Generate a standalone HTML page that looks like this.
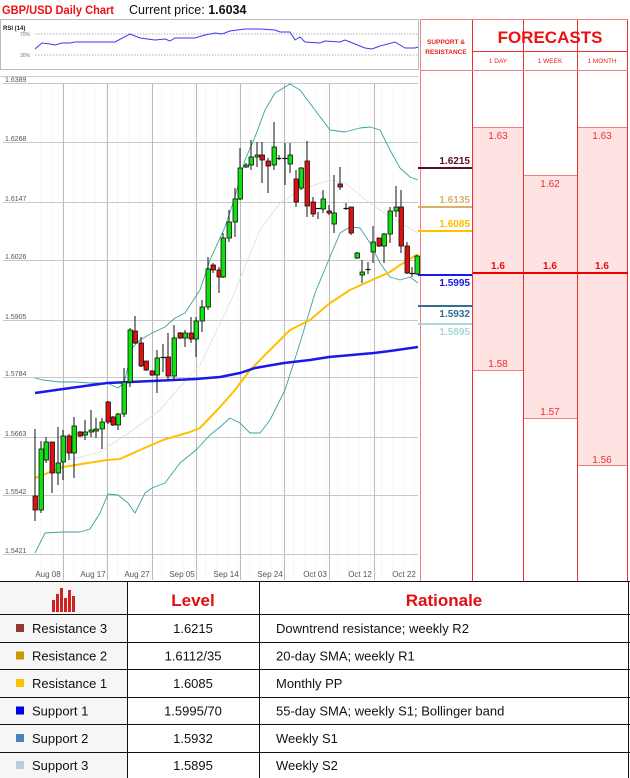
<!DOCTYPE html>
<html><head><meta charset="utf-8"><style>
body{margin:0;width:630px;height:778px;background:#fff;overflow:hidden;font-family:"Liberation Sans",sans-serif}
svg{position:absolute;left:0;top:0}
</style></head><body>
<svg id="s" width="630" height="778" viewBox="0 0 630 778" font-family="Liberation Sans, sans-serif">
<text x="2" y="14" font-size="12" font-weight="bold" fill="#ee1111" textLength="112" lengthAdjust="spacingAndGlyphs">GBP/USD Daily Chart</text>
<text x="129" y="14" font-size="12.5" fill="#111">Current price: <tspan font-weight="bold">1.6034</tspan></text>
<rect x="0.5" y="19.5" width="418" height="50" fill="none" stroke="#bbb"/>
<text x="3" y="30" font-size="6" font-weight="bold" fill="#222">RSI (14)</text>
<line x1="35" y1="34" x2="418" y2="34" stroke="#999" stroke-dasharray="1.5,1.5" stroke-width="0.7"/>
<line x1="35" y1="55" x2="418" y2="55" stroke="#999" stroke-dasharray="1.5,1.5" stroke-width="0.7"/>
<text x="20" y="36" font-size="5" fill="#777">70%</text>
<text x="20" y="57" font-size="5" fill="#777">30%</text>
<polyline fill="none" stroke="#3a3af0" stroke-width="1" points="35,49 42,43 50,44 55,45 62,43 70,43 75,42 100,42 115,42 130,34 140,38 155,40 165,39 170,41 175,38 195,38 205,35 215,33 222,34 230,31 245,29 260,29 275,30 280,32 290,32 295,40 300,37 305,42 320,43 325,41 340,42 345,40 355,44 365,48 372,49 380,46 395,42 405,48 415,48 418,47"/>
<line x1="0" y1="76.5" x2="418" y2="76.5" stroke="#ccc"/>
<g id="grid"></g>
<g id="lines"></g>
<g id="candles"></g>
<g id="panel"></g>
</svg>
<script>
var NS="http://www.w3.org/2000/svg";
function el(p,t,a,txt){var e=document.createElementNS(NS,t);for(var k in a)e.setAttribute(k,a[k]);if(txt!=null)e.textContent=txt;document.getElementById(p).appendChild(e);return e;}
var ys=[83,142,202,260,320,377,437,495,554],labs=["1.6389","1.6268","1.6147","1.6026","1.5905","1.5784","1.5663","1.5542","1.5421"];
for(var x=40;x<418;x+=11)el("grid","line",{x1:x+.5,y1:83,x2:x+.5,y2:580,stroke:"#f4f4f4","stroke-width":0.6});
ys.forEach(function(y,i){el("grid","line",{x1:3,y1:y+.5,x2:418,y2:y+.5,stroke:"#c8c8c8","stroke-width":1});el("grid","text",{x:5,y:y-1,"font-size":7,fill:"#555"},labs[i]);});
var vx=[63,107,152,196,240,284,329,374];
vx.forEach(function(x){el("grid","line",{x1:x+.5,y1:83,x2:x+.5,y2:580,stroke:"#bbb"});});
var xl=[["Aug 08",48],["Aug 17",93],["Aug 27",137],["Sep 05",182],["Sep 14",226],["Sep 24",270],["Oct 03",315],["Oct 12",360],["Oct 22",404]];
xl.forEach(function(a){el("grid","text",{x:a[1],y:577,"font-size":8,fill:"#555","text-anchor":"middle"},a[0]);});
function pl(c,w,pts){el("lines","polyline",{fill:"none",stroke:c,"stroke-width":w,"stroke-linejoin":"round",points:pts});}
pl("#ddd",0.8,"70,460 100,452 130,432 160,410 190,375 200,365 230,303 260,230 280,203 300,190 330,180 345,183 370,203 390,217 418,233");
pl("#3aa0a0",0.9,"35,378 43,380 60,382 75,382 90,383 107,383 118,388 124,383 133,347 140,340 152,333 165,327 175,318 185,313 200,290 210,260 225,227 235,197 245,160 255,137 265,110 275,93 290,84 300,90 315,110 330,130 345,132 360,128 370,127 380,130 390,150 400,168 410,177 418,180");
pl("#3aa0a0",0.9,"35,553 45,533 63,532 80,532 90,529 100,513 108,494 118,495 128,503 135,513 145,493 152,488 165,483 180,463 196,450 210,435 220,427 230,418 240,423 250,433 260,433 270,420 285,390 300,343 315,293 330,257 340,233 350,227 360,228 370,243 380,263 390,277 400,280 410,277 418,283");
pl("#ffc000",2,"35,478 63,467 107,460 120,459 140,450 163,440 190,432 200,428 220,407 235,390 250,370 270,350 290,330 310,320 330,303 350,290 372,280 390,272 400,265 418,254");
pl("#1a1ae8",2.5,"35,393 63,389 107,383 152,381 196,379 220,377 240,373 255,368 284,363 310,360 329,357 374,353 390,351 418,347");
var C=[[35,496,510,429,521],[41,510,449,441,513],[46,460,442,437,463],[52,442,473,442,493],[58,473,463,427,485],[63,462,436,430,480],[69,436,453,434,460],[74,453,426,417,478],[80,432,436,431,437],[85,435,432,420,440],[91,432,430,410,437],[96,431,429,418,438],[102,429,422,418,449],[108,402,422,401,424],[113,417,425,416,426],[118,425,414,413,430],[124,414,382,368,417],[130,382,330,328,387],[135,331,343,316,344],[141,343,366,337,367],[146,361,370,361,371],[152,371,375,370,376],[157,375,358,350,393],[163,358,357,344,372],[168,357,376,333,380],[174,376,338,325,380],[180,333,338,332,339],[185,338,333,330,347],[191,333,339,317,343],[196,339,321,317,357],[202,321,307,300,332],[208,307,269,257,310],[213,265,270,263,273],[219,270,277,267,293],[223,277,238,233,278],[229,238,222,210,242],[235,222,199,188,237],[240,199,168,148,200],[246,167,165,163,168],[251,165,157,140,170],[257,157,155,142,167],[262,155,160,142,183],[268,161,166,158,193],[274,165,147,122,170],[279,158,159,155,160],[285,158,159,143,185],[290,164,155,143,173],[296,179,202,170,207],[301,188,168,167,190],[307,161,206,141,217],[313,202,214,197,217],[318,208,209,212,219],[323,209,199,190,213],[329,211,213,205,215],[334,224,213,175,233],[340,184,187,167,190],[346,208,209,203,210],[351,207,233,207,235],[357,258,253,252,259],[362,275,272,260,283],[368,270,269,262,274],[373,252,242,226,263],[379,238,246,238,247],[384,246,234,233,263],[390,234,211,207,243],[396,211,207,186,217],[401,207,246,190,253],[407,246,273,242,274],[412,273,274,267,277],[417,274,256,255,275]];
C.forEach(function(c){var x=c[0],o=c[1],cl=c[2],g=cl<o,t=Math.min(o,cl),b=Math.max(o,cl);
el("candles","line",{x1:x,y1:c[3],x2:x,y2:c[4],stroke:"#111","stroke-width":1});
if(b-t<2){el("candles","line",{x1:x-2.5,y1:t+.5,x2:x+2.5,y2:t+.5,stroke:"#111","stroke-width":1.2});}
else el("candles","rect",{x:x-2,y:t,width:4.5,height:b-t,fill:g?"#10e010":"#e01010",stroke:"#111","stroke-width":0.8});});
var P="panel";
el(P,"rect",{x:473,y:127,width:51,height:146,fill:"#ffe3e3"});
el(P,"rect",{x:524,y:175,width:53,height:98,fill:"#ffe3e3"});
el(P,"rect",{x:577,y:127,width:51,height:146,fill:"#ffe3e3"});
el(P,"rect",{x:473,y:273,width:51,height:97,fill:"#ffe3e3"});
el(P,"rect",{x:524,y:273,width:53,height:145,fill:"#ffe3e3"});
el(P,"rect",{x:577,y:273,width:51,height:192,fill:"#ffe3e3"});
[[473,127,524],[524,175,577],[577,127,628],[473,370,524],[524,418,577],[577,465,628]].forEach(function(a){el(P,"line",{x1:a[0],y1:a[1]+.5,x2:a[2],y2:a[1]+.5,stroke:"#f08080"});});
[420.5,472.5,523.5,577.5,627.5].forEach(function(x){el(P,"line",{x1:x,y1:19,x2:x,y2:581,stroke:x==420.5?"#f08080":"#e83030","stroke-width":1});});
el(P,"line",{x1:420,y1:19.5,x2:628,y2:19.5,stroke:"#f08080"});
el(P,"line",{x1:473,y1:51.5,x2:628,y2:51.5,stroke:"#e83030"});
el(P,"line",{x1:420,y1:70.5,x2:628,y2:70.5,stroke:"#f08080"});
el(P,"text",{x:446,y:44,"font-size":6.5,"font-weight":"bold",fill:"#e82020","text-anchor":"middle"},"SUPPORT &");
el(P,"text",{x:446,y:54,"font-size":6.5,"font-weight":"bold",fill:"#e82020","text-anchor":"middle"},"RESISTANCE");
el(P,"text",{x:550,y:43,"font-size":17,"font-weight":"bold",fill:"#ee1111","text-anchor":"middle"},"FORECASTS");
[["1 DAY",498],["1 WEEK",550],["1 MONTH",602]].forEach(function(a){el(P,"text",{x:a[1],y:63,"font-size":6.5,fill:"#e82020","text-anchor":"middle"},a[0]);});
[["1.63",498,139],["1.63",602,139],["1.62",550,187],["1.58",498,367],["1.57",550,415],["1.56",602,463]].forEach(function(a){el(P,"text",{x:a[1],y:a[2],"font-size":10,fill:"#e83030","text-anchor":"middle"},a[0]);});
[498,550,602].forEach(function(x){el(P,"text",{x:x,y:269,"font-size":10,"font-weight":"bold",fill:"#e01010","text-anchor":"middle"},"1.6");});
el(P,"line",{x1:473,y1:273,x2:628,y2:273,stroke:"#ee0000","stroke-width":2});
[["1.6215","#5a0f2e",168,-4],["1.6135","#d8b068",207,-4],["1.6085","#ffc000",231,-4],["1.5995","#1a1ae8",275,11],["1.5932","#31708f",306,11],["1.5895","#a8d8d8",324,11]].forEach(function(a){
el(P,"line",{x1:418,y1:a[2],x2:472,y2:a[2],stroke:a[1],"stroke-width":2});
el(P,"text",{x:470,y:a[2]+a[3],"font-size":10,"font-weight":"bold",fill:a[1],"text-anchor":"end"},a[0]);});
var T="panel";
el(T,"rect",{x:0,y:581,width:630,height:197,fill:"#fff"});
el(T,"rect",{x:0,y:581,width:127,height:197,fill:"#f6f6f6"});
var rows=[581,614,642,669,697,724,752,778];
rows.forEach(function(y){el(T,"line",{x1:0,y1:y+.5,x2:630,y2:y+.5,stroke:"#111"});});
[127.5,259.5,628.5].forEach(function(x){el(T,"line",{x1:x,y1:581,x2:x,y2:778,stroke:"#111"});});
[[52,600],[56,594],[60,588],[64,598],[68,590],[72,596]].forEach(function(a){el(T,"rect",{x:a[0],y:a[1],width:3,height:612-a[1],fill:"#d02020"});});
el(T,"text",{x:193,y:606,"font-size":17,"font-weight":"bold",fill:"#e01010","text-anchor":"middle"},"Level");
el(T,"text",{x:444,y:606,"font-size":17,"font-weight":"bold",fill:"#e01010","text-anchor":"middle"},"Rationale");
var R=[["Resistance 3","#953735","1.6215","Downtrend resistance; weekly R2"],["Resistance 2","#c89a00","1.6112/35","20-day SMA; weekly R1"],["Resistance 1","#ffc000","1.6085","Monthly PP"],["Support 1","#0000ee","1.5995/70","55-day SMA; weekly S1; Bollinger band"],["Support 2","#4f81bd","1.5932","Weekly S1"],["Support 3","#b8cce4","1.5895","Weekly S2"]];
R.forEach(function(r,i){var y=(rows[i+1]+rows[i+2])/2;
el(T,"rect",{x:16,y:y-4,width:8,height:8,fill:r[1]});
el(T,"text",{x:32,y:y+5,"font-size":13,fill:"#111"},r[0]);
el(T,"text",{x:193,y:y+5,"font-size":13,fill:"#111","text-anchor":"middle"},r[2]);
el(T,"text",{x:276,y:y+5,"font-size":13,fill:"#111"},r[3]);});
</script>
</body></html>
